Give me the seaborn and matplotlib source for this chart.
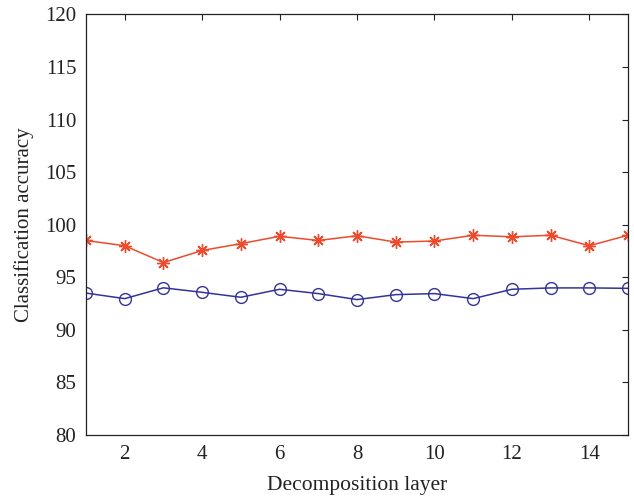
import matplotlib
matplotlib.use("Agg")
import matplotlib.pyplot as plt
import seaborn as sns
import pandas as pd

layers = list(range(1, 16))
red_acc = [98.5, 98.0, 96.4, 97.55, 98.2, 98.9, 98.5, 98.95, 98.35, 98.45, 99.0, 98.85, 99.0, 98.0, 99.0]
blue_acc = [93.5, 92.97, 94.0, 93.57, 93.1, 93.86, 93.45, 92.88, 93.35, 93.45, 92.97, 93.86, 93.99, 93.99, 93.95]

sns.set_theme(style="white")
plt.rcParams['font.family'] = ['Liberation Serif', 'DejaVu Serif']

fig = plt.figure(figsize=(6.34, 4.98), dpi=100)
ax = fig.add_axes([0.1356, 0.1265, 0.855, 0.8445])

sns.lineplot(x=layers, y=red_acc, ax=ax, color="#ee4a2c", marker=(8, 2, 0),
             markersize=9, markeredgewidth=1.0, markeredgecolor="#ee4a2c", linewidth=1.1)
sns.lineplot(x=layers, y=blue_acc, ax=ax, color="#333399", marker="o",
             markersize=8.5, markerfacecolor="none", markeredgecolor="#333399",
             markeredgewidth=1.0, linewidth=1.1)

ax.set_xlim(1, 15)
ax.set_ylim(80, 120)
ax.set_xticks([2, 4, 6, 8, 10, 12, 14])
ax.set_yticks(list(range(80, 121, 5)))
ax.tick_params(direction="in", top=True, right=True, labelsize=15, length=4,
               width=0.8, colors="#222222", pad=7)
for s in ax.spines.values():
    s.set_color("#222222")
    s.set_linewidth(0.9)
ax.set_xlabel("Decomposition layer", fontsize=15.5, color="#222222", labelpad=9)
ax.set_ylabel("Classification accuracy", fontsize=15, color="#222222", labelpad=8)

fig.savefig("out.png", dpi=100)
